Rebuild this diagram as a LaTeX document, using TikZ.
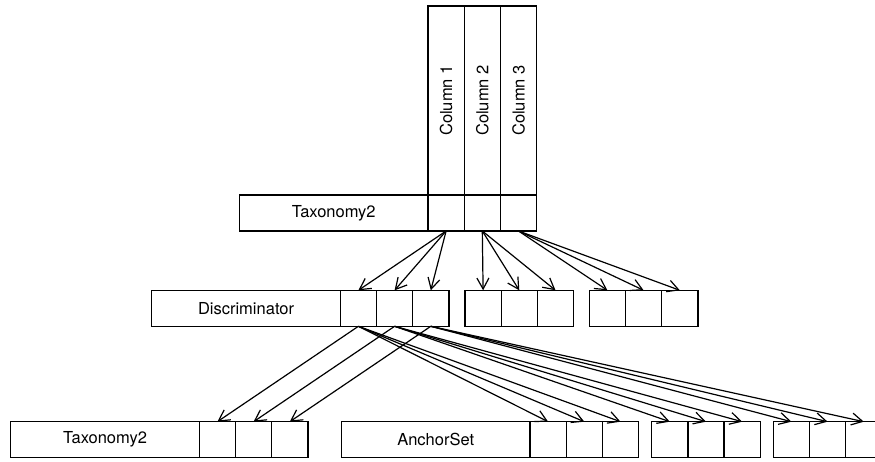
\documentclass[tikz,border=0pt]{standalone}
\usepackage{fontspec}
\setmainfont{TeX Gyre Heros}
\usepackage{tikz}
\usetikzlibrary{positioning,arrows.meta}

\tikzset{
  box/.style={draw,rectangle,line width=1.3pt,inner sep=0pt,outer sep=0pt,minimum height=36pt},
  namebox/.style={box,minimum width=188.5pt},
  cellbox/.style={box,minimum width=36.2pt},
  colbox/.style={box,minimum width=36.2pt,minimum height=189pt},
  ptr/.style={line width=1.2pt,-{Straight Barb[length=11pt,width=12pt]}}
}

\begin{document}
\begin{tikzpicture}[x=1pt,y=1pt,font=\fontsize{16.5}{19}\selectfont]
  \useasboundingbox (0,0) rectangle (875,462);

  % ── Top table: Taxonomy2 and its columns ──
  \node[namebox,anchor=east] (tax) at (428,249) {Taxonomy2};
  \node[cellbox,right=0pt of tax] (top1) {};
  \node[cellbox,right=0pt of top1] (top2) {};
  \node[cellbox,right=0pt of top2] (top3) {};
  \node[colbox,above=0pt of top1] (col1) {\rotatebox{90}{Column 1}};
  \node[colbox,above=0pt of top2] (col2) {\rotatebox{90}{Column 2}};
  \node[colbox,above=0pt of top3] (col3) {\rotatebox{90}{Column 3}};

  % ── Middle row: Discriminator ──
  \node[namebox,anchor=east] (disc) at (340.3,153.7) {Discriminator};
  \node[cellbox,right=0pt of disc] (mid1a) {};
  \node[cellbox,right=0pt of mid1a] (mid1b) {};
  \node[cellbox,right=0pt of mid1b] (mid1c) {};
  \node[cellbox,anchor=west] (mid2a) at (465,153.7) {};
  \node[cellbox,right=0pt of mid2a] (mid2b) {};
  \node[cellbox,right=0pt of mid2b] (mid2c) {};
  \node[cellbox,anchor=west] (mid3a) at (589.3,153.7) {};
  \node[cellbox,right=0pt of mid3a] (mid3b) {};
  \node[cellbox,right=0pt of mid3b] (mid3c) {};

  % ── Bottom row: Taxonomy2 and AnchorSet ──
  \node[namebox,anchor=east] (taxlow) at (199.3,22.3) {Taxonomy2};
  \node[cellbox,right=0pt of taxlow] (tlow1) {};
  \node[cellbox,right=0pt of tlow1] (tlow2) {};
  \node[cellbox,right=0pt of tlow2] (tlow3) {};
  \node[namebox,anchor=east] (aset) at (530,22.3) {AnchorSet};
  \node[cellbox,right=0pt of aset] (low1a) {};
  \node[cellbox,right=0pt of low1a] (low1b) {};
  \node[cellbox,right=0pt of low1b] (low1c) {};
  \node[cellbox,anchor=west] (low2a) at (651.7,22.3) {};
  \node[cellbox,right=0pt of low2a] (low2b) {};
  \node[cellbox,right=0pt of low2b] (low2c) {};
  \node[cellbox,anchor=west] (low3a) at (773.3,22.3) {};
  \node[cellbox,right=0pt of low3a] (low3b) {};
  \node[cellbox,right=0pt of low3b] (low3c) {};

  % ── Pointers: top cells to middle groups ──
  \foreach \i in {1,2,3} {
    \foreach \j in {a,b,c}
      \draw[ptr] (top\i.south) -- (mid\i\j.north);
  }

  % ── Pointers: Discriminator cells to bottom row ──
  \foreach \i/\k in {a/1,b/2,c/3} {
    \draw[ptr] (mid1\i.south) -- (tlow\k.north);
    \foreach \j in {a,b,c}
      \draw[ptr] (mid1\i.south) -- (low\k\j.north);
  }
\end{tikzpicture}
\end{document}
